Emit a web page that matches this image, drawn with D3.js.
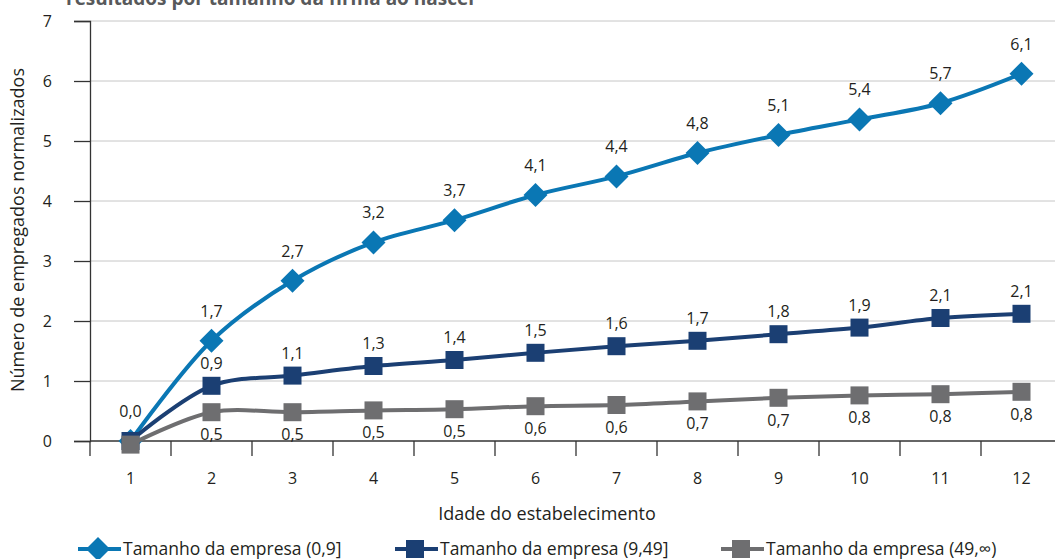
<!DOCTYPE html>
<html><head><meta charset="utf-8">
<script src="https://cdn.jsdelivr.net/npm/d3@7"></script>
<style>body{margin:0;background:#fff;overflow:hidden}svg{display:block;font-family:"Open Sans","Noto Sans",sans-serif}</style>
</head><body><svg id="c" width="1055" height="559"></svg>
<script>
const categories = [1,2,3,4,5,6,7,8,9,10,11,12];
const seriesNames = ["Tamanho da empresa (0,9]","Tamanho da empresa (9,49]","Tamanho da empresa (49,\u221e)"];
const small = [0.0,1.67,2.67,3.31,3.68,4.1,4.41,4.8,5.1,5.36,5.63,6.12];
const medium = [0.0,0.92,1.09,1.25,1.35,1.47,1.58,1.67,1.78,1.89,2.05,2.12];
const large = [-0.06,0.48,0.48,0.51,0.53,0.58,0.6,0.66,0.72,0.76,0.78,0.82];
const smallLabels = ["0,0","1,7","2,7","3,2","3,7","4,1","4,4","4,8","5,1","5,4","5,7","6,1"];
const mediumLabels = ["","0,9","1,1","1,3","1,4","1,5","1,6","1,7","1,8","1,9","2,1","2,1"];
const largeLabels = ["","0,5","0,5","0,5","0,5","0,6","0,6","0,7","0,7","0,8","0,8","0,8"];
const yTicks = [0,1,2,3,4,5,6,7];
const colors = ["#0a77b4","#1b3f73","#6e6e70"];

const svg = d3.select("#c");
const mLeft = 90, mRight = 1062, mTop = 21, mBottom = 441;
const x = d3.scaleBand().domain(categories).range([mLeft, mRight]);
const y = d3.scaleLinear().domain([0,7]).range([mBottom, mTop]);
const txt = "#231f20";

// title (partially cut, as in the reference)
svg.append("text").attr("x",66).attr("y",5).attr("font-size",19).attr("font-weight","bold")
  .attr("fill","#58595b").text("resultados por tamanho da firma ao nascer");

// grid
svg.append("g").selectAll("line").data(yTicks.filter(d=>d>0)).join("line")
  .attr("x1",mLeft).attr("x2",mRight).attr("y1",d=>y(d)).attr("y2",d=>y(d))
  .attr("stroke","#c6c6c6").attr("stroke-width",1);

// y axis
const ya = svg.append("g").attr("transform",`translate(${mLeft},0)`)
  .call(d3.axisLeft(y).tickValues(yTicks).tickSize(16).tickPadding(22).tickFormat(d3.format("d")));
ya.select(".domain").attr("stroke","#333").attr("stroke-width",1.3);
ya.selectAll(".tick line").attr("stroke","#333").attr("stroke-width",1.3);
ya.selectAll("text").attr("font-size",16).attr("fill",txt).attr("font-family","Open Sans, sans-serif");

// x axis
const xa = svg.append("g").attr("transform",`translate(0,${mBottom})`);
xa.append("line").attr("x1",mLeft).attr("x2",mRight).attr("stroke","#333").attr("stroke-width",1.3);
const bounds = d3.range(categories.length+1).map(i=>mLeft + i*x.bandwidth());
xa.selectAll(".tk").data(bounds).join("line").attr("class","tk")
  .attr("x1",d=>d).attr("x2",d=>d).attr("y1",0).attr("y2",15).attr("stroke","#333").attr("stroke-width",1.3);
xa.selectAll(".lb").data(categories).join("text").attr("class","lb")
  .attr("x",d=>x(d)+x.bandwidth()/2).attr("y",43).attr("text-anchor","middle")
  .attr("font-size",16).attr("fill",txt).text(d=>d);

// axis titles
svg.append("text").attr("transform","translate(24,230) rotate(-90)").attr("text-anchor","middle")
  .attr("font-size",18).attr("fill",txt).text("Número de empregados normalizados");
svg.append("text").attr("x",547).attr("y",520).attr("text-anchor","middle")
  .attr("font-size",18).attr("fill",txt).text("Idade do estabelecimento");

const cx = d => x(d)+x.bandwidth()/2;
const line = d3.line().x((d,i)=>cx(categories[i])).y(d=>y(d)).curve(d3.curveCatmullRom.alpha(0.5));

const series = [
  {vals: small, labels: smallLabels, color: colors[0], shape:"diamond", dy: -24},
  {vals: medium, labels: mediumLabels, color: colors[1], shape:"square", dy: -17},
  {vals: large, labels: largeLabels, color: colors[2], shape:"square", dy: 28}
];
function marker(g, shape, color, px, py){
  if(shape==="diamond"){
    g.append("path").attr("d",`M${px},${py-12}L${px+12},${py}L${px},${py+12}L${px-12},${py}Z`).attr("fill",color);
  } else {
    g.append("rect").attr("x",px-9).attr("y",py-9).attr("width",18).attr("height",18).attr("fill",color);
  }
}
series.forEach(s=>{
  const g = svg.append("g");
  g.append("path").datum(s.vals).attr("d",line).attr("fill","none").attr("stroke",s.color).attr("stroke-width",4);
  s.vals.forEach((v,i)=>marker(g,s.shape,s.color,cx(categories[i]),y(v)));
});
series.forEach(s=>{
  svg.append("g").selectAll("text").data(s.vals).join("text")
    .attr("x",(d,i)=>cx(categories[i])).attr("y",d=>y(d)+s.dy).attr("text-anchor","middle")
    .attr("font-size",16).attr("fill",txt).text((d,i)=>s.labels[i]);
});

// legend
const legX = [78, 395, 721];
const lg = svg.append("g");
[0,1,2].forEach(k=>{
  const x0 = legX[k], yy = 549;
  lg.append("line").attr("x1",x0).attr("x2",x0+43).attr("y1",yy).attr("y2",yy).attr("stroke",colors[k]).attr("stroke-width",4);
  marker(lg, k===0?"diamond":"square", colors[k], x0+20, yy);
  lg.append("text").attr("x",x0+45).attr("y",yy+6).attr("font-size",17.5).attr("fill",txt).text(seriesNames[k]);
});
</script></body></html>
